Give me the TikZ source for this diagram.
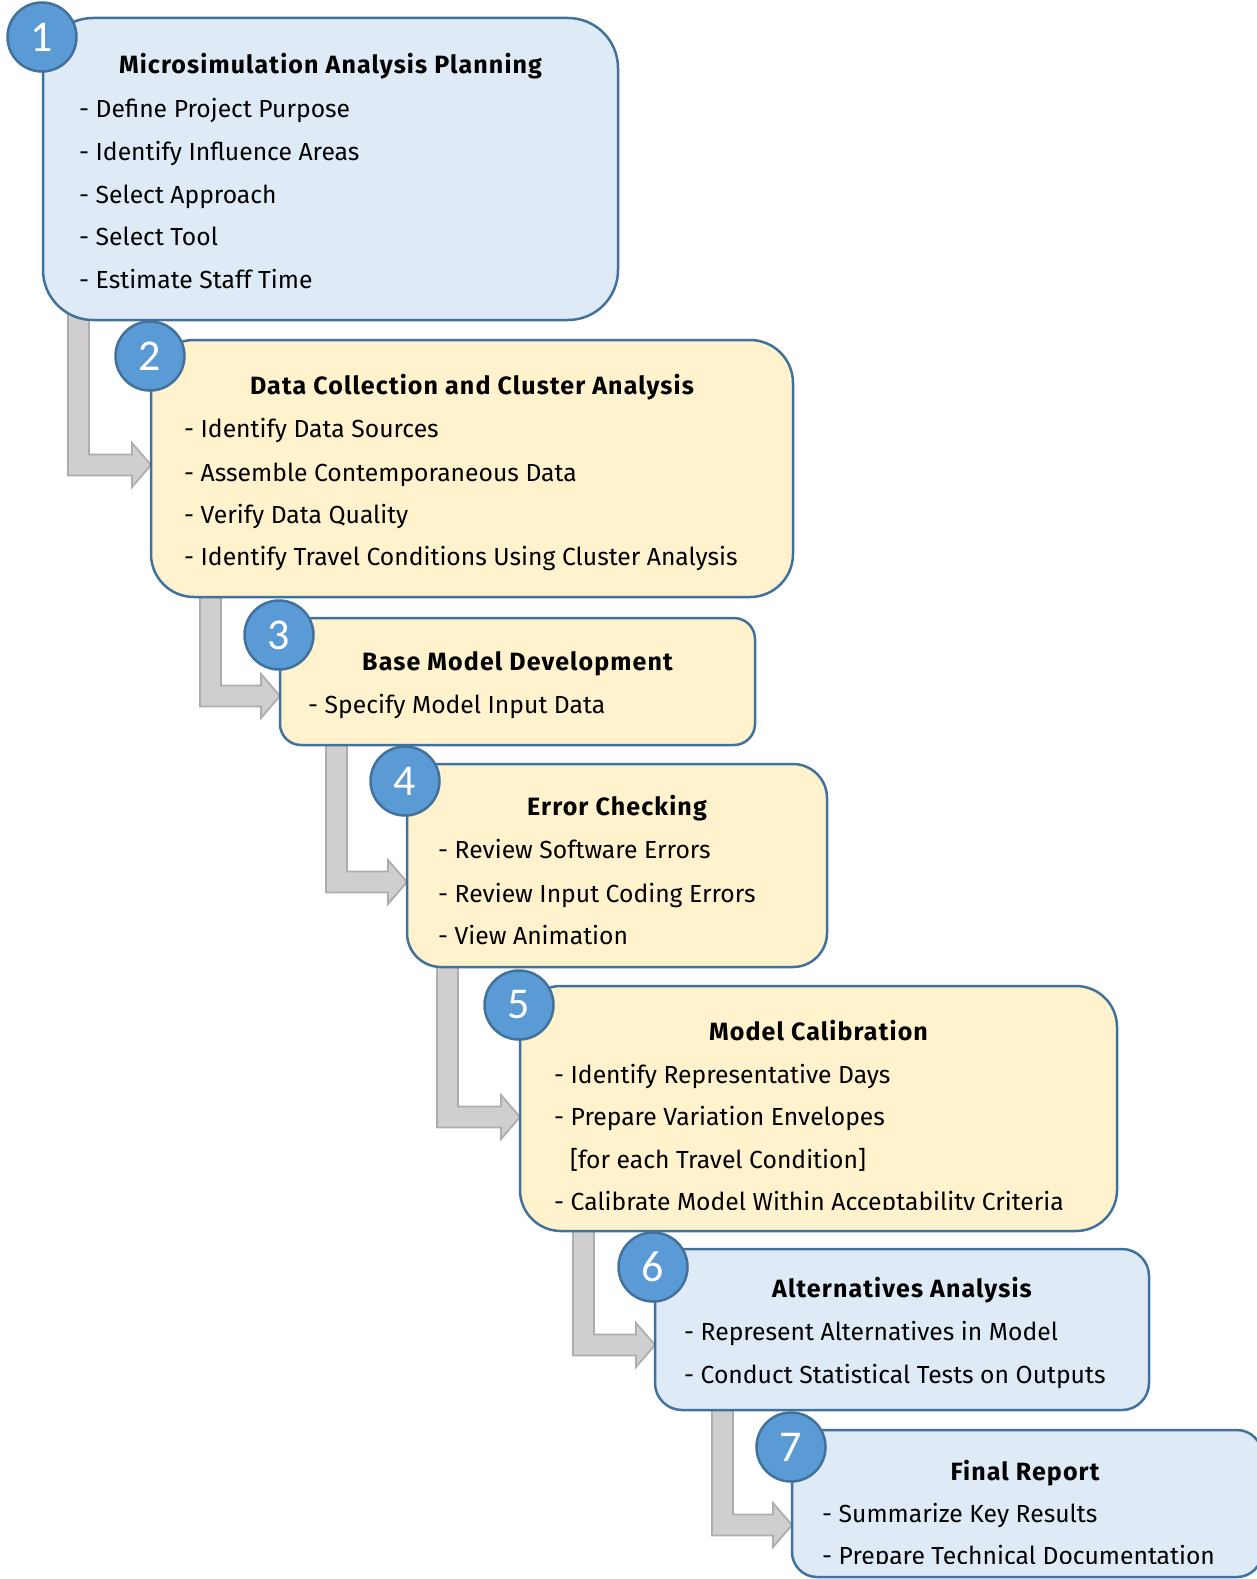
\documentclass[tikz,border=0pt]{standalone}
\usepackage{fontspec}
\setmainfont{Fira Sans}
\newfontfamily\titlefont[LetterSpace=4.5]{Fira Sans Bold}
\newfontfamily\digitfont{Carlito}
\usetikzlibrary{calc,backgrounds}

\definecolor{stepblue}{HTML}{DEEBF7}
\definecolor{stepyellow}{HTML}{FFF2CC}
\definecolor{edgeblue}{HTML}{41719C}
\definecolor{discblue}{HTML}{5B9BD5}
\definecolor{connfill}{HTML}{D0CECE}
\definecolor{connedge}{HTML}{ADADAD}

\tikzset{
  box/.style={draw=edgeblue, line width=2.5pt, rectangle, inner sep=0pt, outer sep=0pt},
  disc/.style={circle, draw=edgeblue, fill=discblue, line width=2.5pt, minimum size=69pt,
    inner sep=0pt, font=\digitfont\fontsize{44}{44}\selectfont, text=white},
  title/.style={font=\titlefont\fontsize{25}{28}\selectfont, anchor=base, inner sep=0pt},
  item/.style={font=\fontsize{24.7}{28}\selectfont, anchor=base west, inner sep=0pt},
  conn/.style={fill=connfill, draw=connedge, line width=1.8pt, line join=miter},
}

% bent block arrow: vertical bar from #1 down, then right into the tip #2
\newcommand\stepconnector[2]{%
  \path[conn] let \p1=(#1), \p2=(#2) in
    ({\x1},{\y1}) -- ({\x1+21pt},{\y1}) -- ({\x1+21pt},{\y2+10.5pt})
    -- ({\x2-19pt},{\y2+10.5pt}) -- ({\x2-19pt},{\y2+22pt}) -- ({\x2},{\y2})
    -- ({\x2-19pt},{\y2-22pt}) -- ({\x2-19pt},{\y2-10.5pt}) -- ({\x1},{\y2-10.5pt}) -- cycle;}

\begin{document}
\begin{tikzpicture}[x=1pt,y=-1pt]
\useasboundingbox (0,0) rectangle (1256,1579);

% step boxes
\node[box, fill=stepblue,   rounded corners=50pt, minimum width=575pt, minimum height=302pt] (b1) at (330.5,169) {};
\node[box, fill=stepyellow, rounded corners=43pt, minimum width=642pt, minimum height=257pt] (b2) at (472,468.5) {};
\node[box, fill=stepyellow, rounded corners=21pt, minimum width=475pt, minimum height=127pt] (b3) at (517.5,681.5) {};
\node[box, fill=stepyellow, rounded corners=34pt, minimum width=420pt, minimum height=203pt] (b4) at (617,865.5) {};
\node[box, fill=stepyellow, rounded corners=41pt, minimum width=597pt, minimum height=245pt] (b5) at (818.5,1108.5) {};
\node[box, fill=stepblue,   rounded corners=27pt, minimum width=494pt, minimum height=161pt] (b6) at (902,1329.5) {};
\node[box, fill=stepblue,   rounded corners=25pt, minimum width=470pt, minimum height=147pt] (b7) at (1027,1503.5) {};

% connector ends
\coordinate (s1) at (68,306);   \coordinate (t2) at (b2.west |- 0,465);
\coordinate (s2) at (200,583);  \coordinate (t3) at (b3.west |- 0,696);
\coordinate (s3) at (326,733);  \coordinate (t4) at (b4.west |- 0,882);
\coordinate (s4) at (437,953);  \coordinate (t5) at (b5.west |- 0,1117);
\coordinate (s5) at (573,1217); \coordinate (t6) at (b6.west |- 0,1345);
\coordinate (s6) at (712,1398); \coordinate (t7) at (b7.west |- 0,1525);

\begin{scope}[on background layer]
  \stepconnector{s1}{t2}
  \stepconnector{s2}{t3}
  \stepconnector{s3}{t4}
  \stepconnector{s4}{t5}
  \stepconnector{s5}{t6}
  \stepconnector{s6}{t7}
\end{scope}

% step 1
\node[title] (h1) at (b1 |- 0,74) {Microsimulation Analysis Planning};
\node[item] (i11) at (79,117.5) {- Define Project Purpose};
\node[item] (i12) at (79,160.5) {- Identify Influence Areas};
\node[item] (i13) at (79,203)   {- Select Approach};
\node[item] (i14) at (79,245.5) {- Select Tool};
\node[item] (i15) at (79,288.5) {- Estimate Staff Time};

% step 2
\node[title] (h2) at (b2 |- 0,394.5) {Data Collection and Cluster Analysis};
\node[item] (i21) at (184,437.8) {- Identify Data Sources};
\node[item] (i22) at (184,481.1) {- Assemble Contemporaneous Data};
\node[item] (i23) at (184,523.4) {- Verify Data Quality};
\node[item] (i24) at (184,565.7) {- Identify Travel Conditions Using Cluster Analysis};

% step 3
\node[title] (h3) at (b3 |- 0,670.4) {Base Model Development};
\node[item] (i31) at (308,713.7) {- Specify Model Input Data};

% step 4
\node[title] (h4) at (b4 |- 0,815.5) {Error Checking};
\node[item] (i41) at (438,858.8) {- Review Software Errors};
\node[item] (i42) at (438,902.1) {- Review Input Coding Errors};
\node[item] (i43) at (438,944.4) {- View Animation};

% step 5
\node[title] (h5) at (b5 |- 0,1040.1) {Model Calibration};
\node[item] (i51) at (554,1083.4) {- Identify Representative Days};
\node[item] (i52) at (554,1125.7) {- Prepare Variation Envelopes};
\node[item] (i53) at (570,1168)   {[for each Travel Condition]};
\begin{scope}
  \clip (b5.west |- 0,1180) rectangle (b5.east |- 0,1209.5);
  \node[item] (i54) at (554,1210.3) {- Calibrate Model Within Acceptability Criteria};
\end{scope}

% step 6
\node[title] (h6) at (b6 |- 0,1297.9) {Alternatives Analysis};
\node[item] (i61) at (684,1340.2) {- Represent Alternatives in Model};
\node[item] (i62) at (684,1383.5) {- Conduct Statistical Tests on Outputs};

% step 7
\node[title] (h7) at (1025,1480.2) {Final Report};
\node[item] (i71) at (822,1522.5) {- Summarize Key Results};
\begin{scope}
  \clip (b7.west |- 0,1535) rectangle (b7.east |- 0,1563.5);
  \node[item] (i72) at (822,1564.8) {- Prepare Technical Documentation};
\end{scope}

% numbered discs
\node[disc] (n1) at (42,37)    {1};
\node[disc] (n2) at (150,356)  {2};
\node[disc] (n3) at (279,635)  {3};
\node[disc] (n4) at (405,781)  {4};
\node[disc] (n5) at (519,1005) {5};
\node[disc] (n6) at (653,1267) {6};
\node[disc] (n7) at (791,1447) {7};
\end{tikzpicture}
\end{document}
